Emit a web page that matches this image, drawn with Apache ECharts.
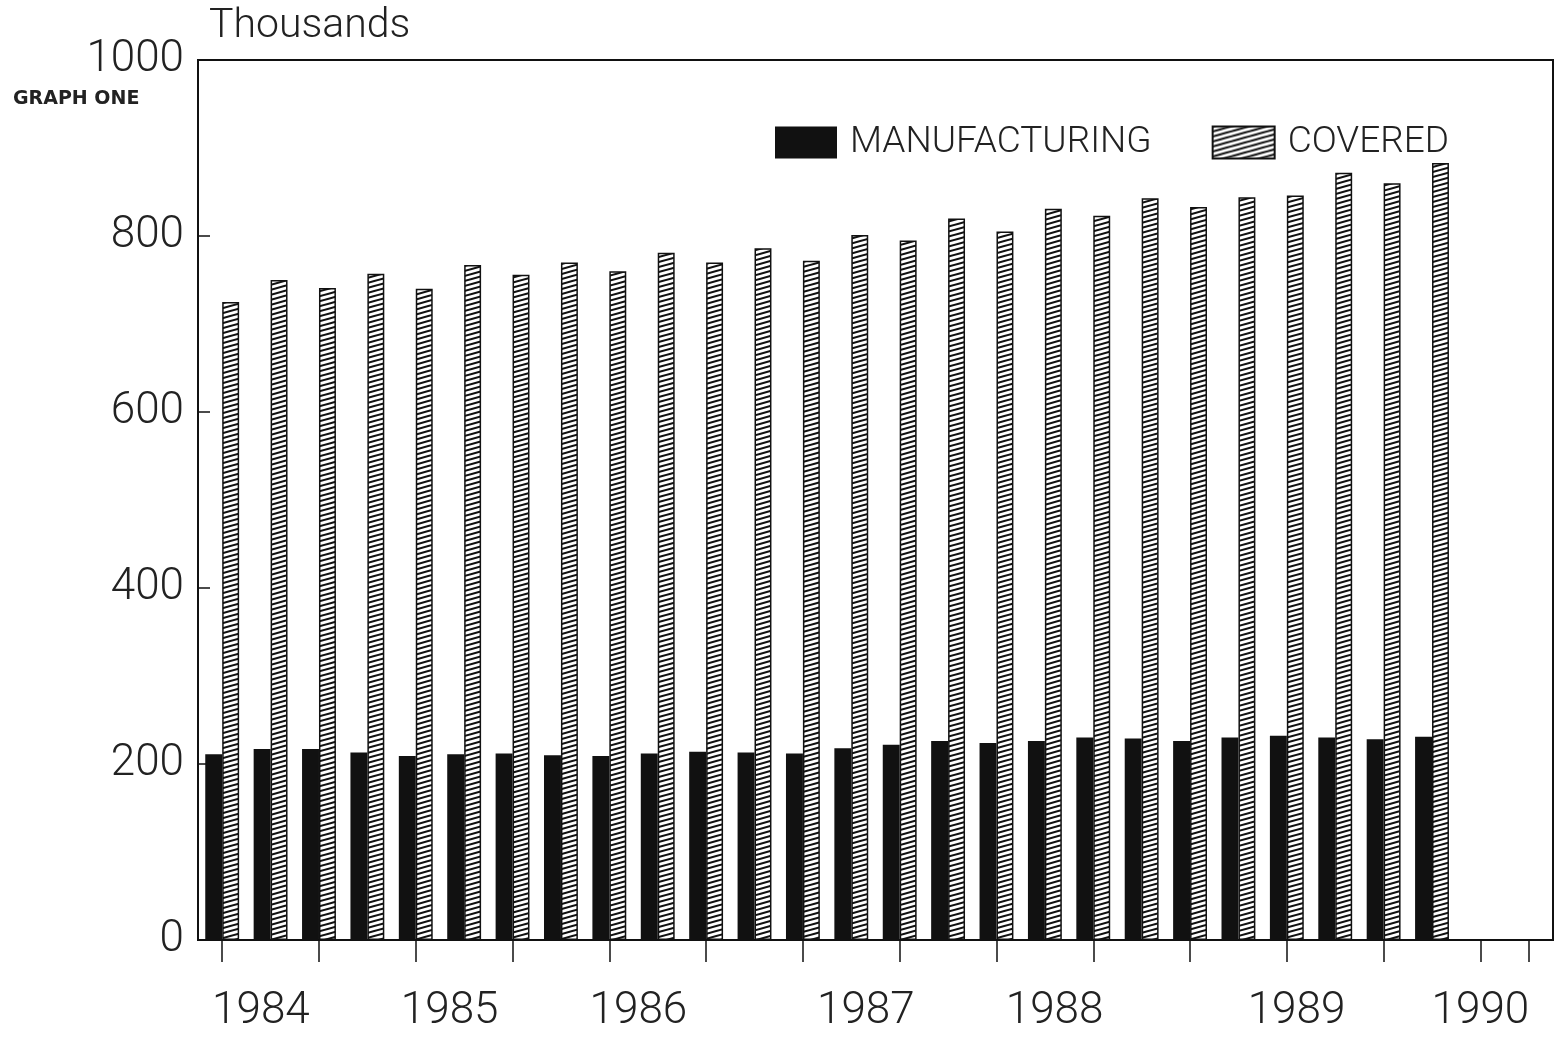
<!DOCTYPE html>
<html><head><meta charset="utf-8">
<script src="https://cdn.jsdelivr.net/npm/echarts@6/dist/echarts.min.js"></script>
<style>html,body{margin:0;padding:0;background:#fff}#c{width:1564px;height:1037px}</style>
</head><body><div id="c"></div>
<script>
// Quarterly slots along the x axis (28 slots, last two empty)
const quarters = ['1984 Q1','1984 Q2','1984 Q3','1984 Q4','1985 Q1','1985 Q2','1985 Q3','1985 Q4',
  '1986 Q1','1986 Q2','1986 Q3','1986 Q4','1987 Q1','1987 Q2','1987 Q3','1987 Q4',
  '1988 Q1','1988 Q2','1988 Q3','1988 Q4','1989 Q1','1989 Q2','1989 Q3','1989 Q4',
  '1990 Q1','1990 Q2','1990 Q3','1990 Q4'];
const manufacturing = [211,217,217,213,209,211,212,210,209,212,214,213,212,218,222,226,224,226,230,229,226,230,232,230,228,231,null,null];
const covered = [725,750,741,757,740,767,756,770,760,781,770,786,772,801,795,820,805,831,823,843,833,844,846,872,860,883,null,null];
const yearLabels = ['1984','1985','1986','1987','1988','1989','1990'];
const yearLabelSlot = [0.8,4.7,8.6,13.3,17.2,22.2,26];
const tickSlots = [0,2,4,6,8,10,12,14,16,18,20,22,24,26,27];

function hatch(){
  const w=18,h=5,c=document.createElement('canvas');
  c.width=w;c.height=h;
  const g=c.getContext('2d');
  g.fillStyle='#fff';g.fillRect(0,0,w,h);
  g.strokeStyle='#111';g.lineWidth=2.1;
  for(const dy of [-h,0,h]){
    g.beginPath();g.moveTo(-w,2*h+dy);g.lineTo(2*w,-h+dy);g.stroke();
  }
  return c;
}
const pattern={image:hatch(),repeat:'repeat'};
const FONT='Roboto';
const chart=echarts.init(document.getElementById('c'));
chart.setOption({
  animation:false,
  backgroundColor:'#fff',
  title:[
    {text:'Thousands',left:204,top:1,textStyle:{fontFamily:FONT,fontWeight:300,fontSize:41,color:'#222'}},
    {text:'GRAPH ONE',left:8,top:85,textStyle:{fontFamily:'DejaVu Sans',fontWeight:'bold',fontSize:19,color:'#222'}}
  ],
  legend:{
    left:775,top:124,itemWidth:62,itemHeight:32,itemGap:60,padding:0,icon:'rect',
    textStyle:{fontFamily:FONT,fontWeight:300,fontSize:37,color:'#222',padding:[10,0,0,8]},
    data:['MANUFACTURING','COVERED']
  },
  grid:{left:198,right:11,top:60,bottom:97,show:true,borderColor:'#111',borderWidth:2,backgroundColor:'transparent'},
  xAxis:[
    {type:'category',data:quarters,boundaryGap:true,
     axisLine:{lineStyle:{color:'#111',width:2}},
     axisTick:{show:false},
     axisLabel:{show:false}},
    {type:'value',min:0,max:28,position:'bottom',
     axisLine:{show:false},splitLine:{show:false},
     axisTick:{show:true,length:22,lineStyle:{color:'#111',width:1.5},customValues:tickSlots.map(s=>s+0.5)},
     axisLabel:{margin:50,fontFamily:FONT,fontWeight:300,fontSize:44,color:'#222',
       customValues:yearLabelSlot.map(s=>s+0.5),
       formatter:(v)=>{const k=yearLabelSlot.findIndex(s=>Math.abs(s+0.5-v)<1e-6);return k>=0?yearLabels[k]:'';}}}
  ],
  yAxis:{type:'value',min:0,max:1000,interval:200,
    axisLine:{show:true,lineStyle:{color:'#111',width:2}},
    axisTick:{show:true,inside:true,length:12,lineStyle:{color:'#111',width:1.5}},
    splitLine:{show:false},
    axisLabel:{margin:14,fontFamily:FONT,fontWeight:300,fontSize:44,color:'#222',formatter:(v)=>String(v)}},
  series:[
    {name:'MANUFACTURING',type:'bar',xAxisIndex:0,data:manufacturing,barGap:'0%',barCategoryGap:'30%',
     itemStyle:{color:'#111',borderColor:'#111',borderWidth:0}},
    {name:'COVERED',type:'bar',xAxisIndex:0,data:covered,
     itemStyle:{color:pattern,borderColor:'#111',borderWidth:1.5}}
  ]
});
</script></body></html>
